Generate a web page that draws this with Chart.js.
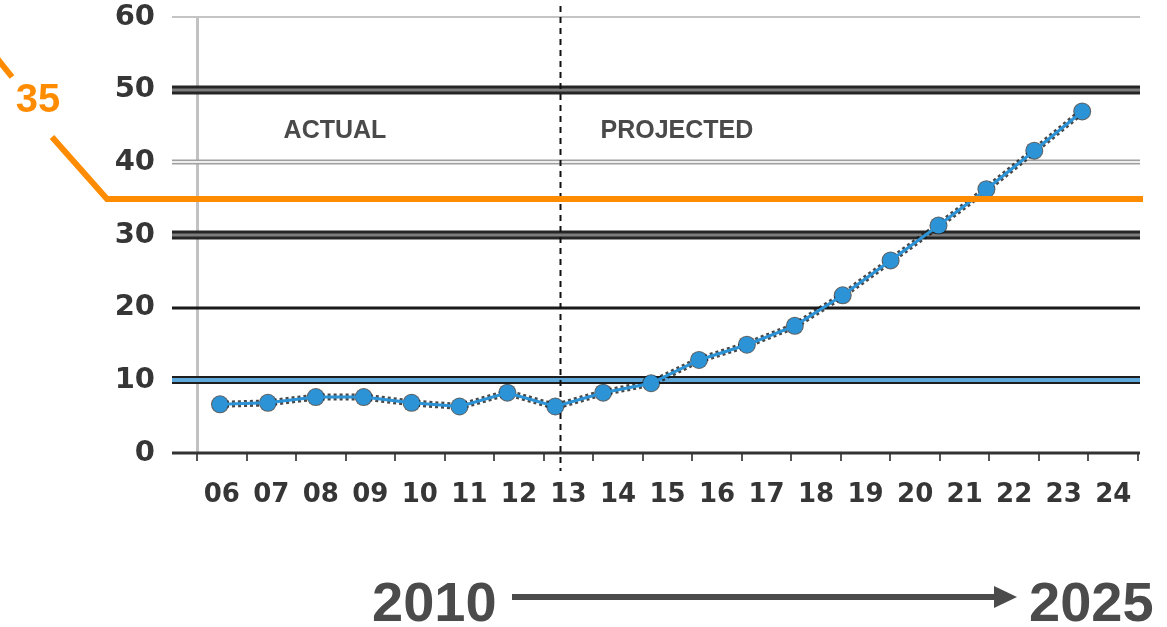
<!DOCTYPE html>
<html lang="en">
<head>
<meta charset="UTF-8">
<title>Actual and projected values, 2006-2024</title>
<script src="https://cdn.jsdelivr.net/npm/chart.js@4.4.1/dist/chart.umd.min.js"></script>
<style>
    html, body { margin: 0; padding: 0; background: #ffffff; }
    #wrap { position: relative; width: 1167px; height: 627px; }
</style>
</head>
<body>
<div id="wrap"><canvas id="growthChart"></canvas></div>
<script>
/* ==========================================
        DATA
========================================== */

const years = ["06", "07", "08", "09", "10", "11", "12", "13", "14", "15",
               "16", "17", "18", "19", "20", "21", "22", "23", "24"];

const values = [6.7, 6.9, 7.7, 7.7, 6.9, 6.4, 8.3, 6.4, 8.3, 9.6,
                12.8, 14.9, 17.5, 21.7, 26.5, 31.3, 36.3, 41.6, 47.0];

const yTicks = [0, 10, 20, 30, 40, 50, 60];

const threshold = 35;
const lastActual = 7;              // index of "13"
const periodLabels = ["ACTUAL", "PROJECTED"];
const rangeLabels = ["2010", "2025"];

/* ==========================================
        STYLES
========================================== */

const DARK = "#363636";
const ORANGE = "#ff8c00";
const BLUE = "#2b93d6";

// each gridline is drawn as an outer stroke and an optional inner one
const GRID_STYLE = {
    0:  [{ color: "#333333", width: 3 }],
    10: [{ color: "#1e1e1e", width: 8 }, { color: "#5fa8dc", width: 4 }],
    20: [{ color: "#1a1a1a", width: 3 }],
    30: [{ color: "#262626", width: 9 }, { color: "#7d7d7d", width: 3 }],
    40: [{ color: "#a0a0a0", width: 5 }, { color: "#eeeeee", width: 2 }],
    50: [{ color: "#262626", width: 9 }, { color: "#7d7d7d", width: 3 }],
    60: [{ color: "#c4c4c4", width: 2 }]
};

function strokeLine(ctx, x1, y1, x2, y2) {

    ctx.beginPath();
    ctx.moveTo(x1, y1);
    ctx.lineTo(x2, y2);
    ctx.stroke();

}

/* ==========================================
        ANNOTATION PLUGIN
========================================== */

const annotations = {

    id: "annotations",

    beforeDatasetsDraw(chart) {

        const { ctx, chartArea, scales } = chart;
        const x = scales.x;
        const y = scales.y;

        ctx.save();

        // gridlines with their small left ticks
        yTicks.forEach(v => {

            const py = Math.round(y.getPixelForValue(v));

            (GRID_STYLE[v] || []).forEach(s => {

                ctx.strokeStyle = s.color;
                ctx.lineWidth = s.width;
                strokeLine(ctx, chartArea.left - 25, py, chartArea.right + 2, py);

            });

        });

        // actual / projected divider
        const dx = Math.round(x.getPixelForValue(lastActual + 0.1)) + 0.5;

        ctx.setLineDash([6, 5]);
        ctx.strokeStyle = "#111111";
        ctx.lineWidth = 2;
        strokeLine(ctx, dx, 6, dx, chartArea.bottom + 18);
        ctx.setLineDash([]);

        // period captions
        const ty = y.getPixelForValue(44.3);

        ctx.font = 'bold 25px "Liberation Sans", Arial, sans-serif';
        ctx.fillStyle = "#4a4a4a";
        ctx.textBaseline = "middle";

        ctx.textAlign = "center";
        ctx.fillText(periodLabels[0], x.getPixelForValue(2.4), ty);

        ctx.textAlign = "left";
        ctx.fillText(periodLabels[1], dx + 40, ty);

        ctx.restore();

    },

    afterDatasetsDraw(chart) {

        const { ctx, chartArea, scales } = chart;
        const oy = Math.round(scales.y.getPixelForValue(threshold));

        ctx.save();

        // threshold line with its leader
        ctx.strokeStyle = ORANGE;
        ctx.lineWidth = 6;
        ctx.lineJoin = "miter";

        ctx.beginPath();
        ctx.moveTo(52, oy - 62);
        ctx.lineTo(107, oy);
        ctx.lineTo(chartArea.right + 5, oy);
        ctx.stroke();

        strokeLine(ctx, 12, 77, -4, 57);

        ctx.fillStyle = ORANGE;
        ctx.font = 'bold 40px "Liberation Sans", Arial, sans-serif';
        ctx.textAlign = "center";
        ctx.textBaseline = "middle";
        ctx.fillText(String(threshold), 38, 101);

        // time range underneath
        ctx.fillStyle = "#4b4b4b";
        ctx.strokeStyle = "#4b4b4b";
        ctx.font = 'bold 56px "Liberation Sans", Arial, sans-serif';
        ctx.textAlign = "left";
        ctx.textBaseline = "alphabetic";
        ctx.fillText(rangeLabels[0], 372, 621);
        ctx.fillText(rangeLabels[1], 1029, 621);

        ctx.lineWidth = 6;
        strokeLine(ctx, 512, 597, 998, 597);

        ctx.beginPath();
        ctx.moveTo(994, 586);
        ctx.lineTo(1017, 597);
        ctx.lineTo(994, 608);
        ctx.closePath();
        ctx.fill();

        ctx.restore();

    }

};

/* ==========================================
        CREATE CHART
========================================== */

const points = values.map((v, i) => ({ x: i, y: v }));

const tickFont = { family: "DejaVu Sans", weight: "bold" };

new Chart(document.getElementById("growthChart").getContext("2d"), {

    type: "line",

    data: {

        labels: years,

        datasets: [

            {
                label: "Value",
                data: points,
                xAxisID: "x",
                yAxisID: "y",
                borderColor: BLUE,
                borderWidth: 3,
                pointRadius: 8,
                pointBackgroundColor: BLUE,
                pointBorderWidth: 0,
                tension: 0,
                order: 0
            },

            {
                label: "outline",
                data: points,
                xAxisID: "x",
                yAxisID: "y",
                borderColor: "rgba(25,25,25,0.8)",
                borderWidth: 7,
                borderDash: [3, 3],
                pointRadius: 9,
                pointBackgroundColor: "rgba(30,30,30,0.7)",
                pointBorderWidth: 0,
                tension: 0,
                order: 1
            }

        ]

    },

    options: {

        responsive: true,
        maintainAspectRatio: false,
        animation: false,

        layout: {
            padding: { top: 17, right: 29, bottom: 114, left: 0 }
        },

        plugins: {
            legend: { display: false },
            tooltip: { enabled: false }
        },

        scales: {

            x: {
                type: "linear",
                display: false,
                min: -0.48,
                max: 19.165
            },

            years: {
                type: "category",
                position: "bottom",
                labels: years,
                offset: true,
                grid: {
                    display: true,
                    drawOnChartArea: false,
                    drawTicks: true,
                    tickLength: 8,
                    offset: true,
                    color: "#555555",
                    lineWidth: 2
                },
                border: { display: false },
                ticks: {
                    autoSkip: false,
                    maxRotation: 0,
                    padding: 19,
                    color: DARK,
                    font: { ...tickFont, size: 26 }
                },
                afterFit(scale) {
                    scale.height = 60;
                    scale.paddingLeft = 0;
                    scale.paddingRight = 0;
                }
            },

            y: {
                type: "linear",
                position: "left",
                min: 0,
                max: 60,
                grid: { display: false, drawTicks: false },
                border: { display: true, color: "#c2c2c2", width: 3 },
                ticks: {
                    stepSize: 10,
                    padding: 42,
                    color: DARK,
                    font: { ...tickFont, size: 29 }
                },
                afterFit(scale) {
                    scale.width = 197;
                    scale.paddingTop = 0;
                    scale.paddingBottom = 0;
                }
            }

        }

    },

    plugins: [annotations]

});
</script>
</body>
</html>
